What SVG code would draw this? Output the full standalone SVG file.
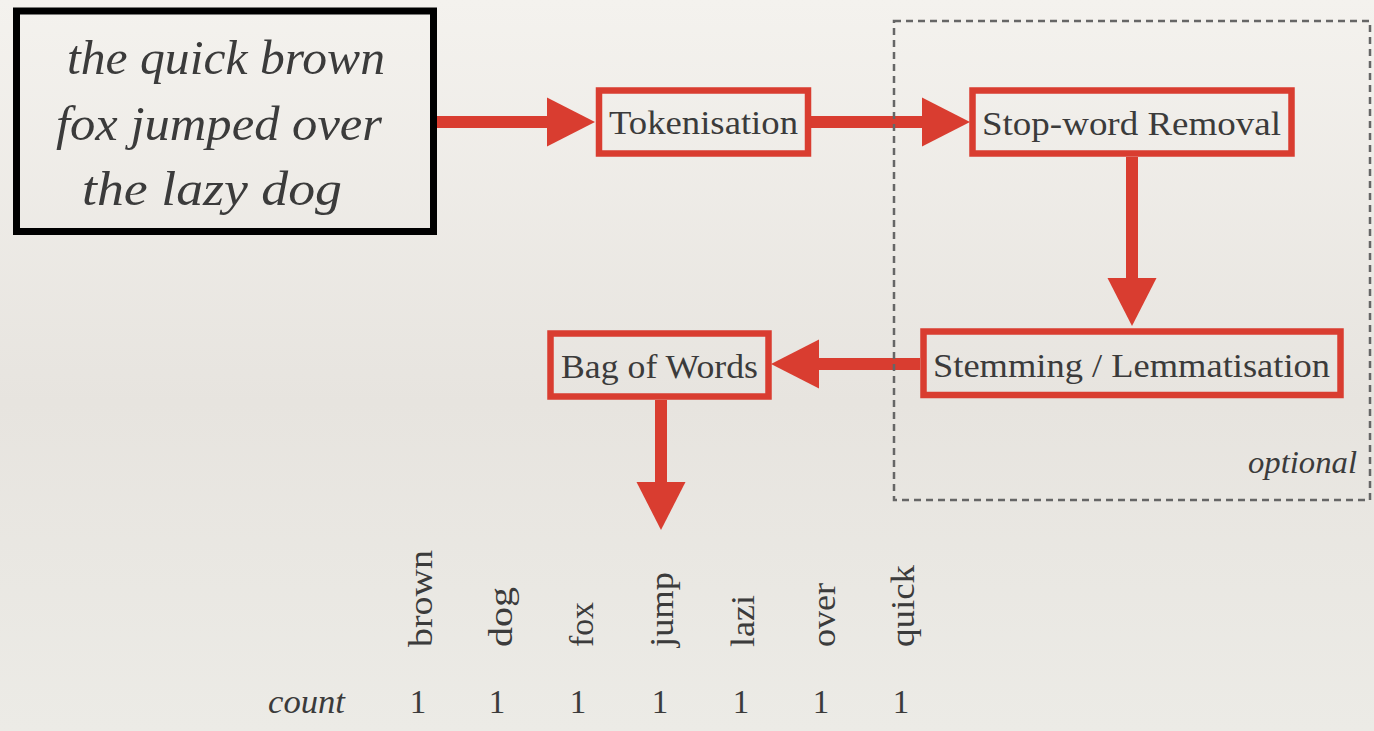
<svg xmlns="http://www.w3.org/2000/svg" width="1374" height="731" viewBox="0 0 1374 731">
<defs>
  <linearGradient id="bg" x1="0" y1="0" x2="0" y2="1">
    <stop offset="0" stop-color="#f4f2ee"/>
    <stop offset="0.55" stop-color="#e7e4df"/>
    <stop offset="1" stop-color="#ecebe6"/>
  </linearGradient>
  <marker id="head" markerUnits="userSpaceOnUse" markerWidth="50" markerHeight="50" refX="0" refY="24.5" orient="auto" overflow="visible">
    <path d="M0,0 L48,24.5 L0,49 Z" fill="#d93d30"/>
  </marker>
  <style>
    .box { fill: none; stroke: #d93d30; stroke-width: 6.5; }
    .lbl { font-family: "Liberation Serif", "DejaVu Serif", serif; font-size: 34px; fill: #3b3b3b; }
    .it { font-family: "Liberation Serif", "DejaVu Serif", serif; font-style: italic; fill: #3b3b3b; }
    .conn { stroke: #d93d30; stroke-width: 12; fill: none; marker-end: url(#head); }
    .word { font-family: "Liberation Serif", "DejaVu Serif", serif; font-size: 34px; fill: #3b3b3b; }
    .num { font-family: "Liberation Serif", "DejaVu Serif", serif; font-size: 33px; fill: #3b3b3b; text-anchor: middle; }
  </style>
</defs>
<rect x="0" y="0" width="1374" height="731" fill="url(#bg)"/>

<g id="connectors">
  <line class="conn" x1="437" y1="122" x2="547" y2="122"/>
  <line class="conn" x1="811" y1="122" x2="922" y2="122"/>
  <line class="conn" x1="1132" y1="157" x2="1132" y2="278"/>
  <line class="conn" x1="920" y1="364" x2="819" y2="364"/>
  <line class="conn" x1="661" y1="400" x2="661" y2="482"/>
</g>

<g id="input">
  <rect x="16.5" y="11" width="417" height="220.5" fill="none" stroke="#000" stroke-width="7"/>
  <text class="it" font-size="49" x="226" y="74" text-anchor="middle" textLength="318" lengthAdjust="spacingAndGlyphs">the quick brown</text>
  <text class="it" font-size="49" x="219" y="140" text-anchor="middle" textLength="326" lengthAdjust="spacingAndGlyphs">fox jumped over</text>
  <text class="it" font-size="49" x="212" y="205" text-anchor="middle" textLength="260" lengthAdjust="spacingAndGlyphs">the lazy dog</text>
</g>

<g id="tokenisation">
  <rect class="box" x="599" y="90.5" width="209" height="63"/>
  <text class="lbl" x="609" y="134" textLength="189" lengthAdjust="spacingAndGlyphs">Tokenisation</text>
</g>

<g id="stopword">
  <rect class="box" x="972.5" y="90.5" width="319" height="63"/>
  <text class="lbl" x="982" y="135" textLength="299" lengthAdjust="spacingAndGlyphs">Stop-word Removal</text>
</g>

<g id="stemming">
  <rect class="box" x="923.5" y="331.5" width="417" height="63.5"/>
  <text class="lbl" x="933" y="377" textLength="397" lengthAdjust="spacingAndGlyphs">Stemming / Lemmatisation</text>
</g>

<g id="bagofwords">
  <rect class="box" x="550.5" y="333.5" width="218" height="63"/>
  <text class="lbl" x="561" y="378" textLength="197" lengthAdjust="spacingAndGlyphs">Bag of Words</text>
</g>

<g id="optional">
  <rect x="894" y="21" width="476" height="479" fill="none" stroke="#666" stroke-width="2.5" stroke-dasharray="7 5"/>
  <text class="it" font-size="32" x="1357" y="473" text-anchor="end" textLength="109" lengthAdjust="spacingAndGlyphs">optional</text>
</g>

<g id="table">
  <text class="word" transform="translate(432,647) rotate(-90)" textLength="97" lengthAdjust="spacingAndGlyphs">brown</text>
  <text class="word" transform="translate(512,647) rotate(-90)" textLength="60" lengthAdjust="spacingAndGlyphs">dog</text>
  <text class="word" transform="translate(593,647) rotate(-90)" textLength="45" lengthAdjust="spacingAndGlyphs">fox</text>
  <text class="word" transform="translate(673,647) rotate(-90)" textLength="75" lengthAdjust="spacingAndGlyphs">jump</text>
  <text class="word" transform="translate(754,647) rotate(-90)" textLength="52" lengthAdjust="spacingAndGlyphs">lazi</text>
  <text class="word" transform="translate(835,647) rotate(-90)" textLength="64" lengthAdjust="spacingAndGlyphs">over</text>
  <text class="word" transform="translate(914,647) rotate(-90)" textLength="82" lengthAdjust="spacingAndGlyphs">quick</text>
  <text class="it" font-size="34" x="268" y="713" textLength="77" lengthAdjust="spacingAndGlyphs">count</text>
  <text class="num" x="418" y="713">1</text>
  <text class="num" x="497" y="713">1</text>
  <text class="num" x="578" y="713">1</text>
  <text class="num" x="660" y="713">1</text>
  <text class="num" x="741" y="713">1</text>
  <text class="num" x="821" y="713">1</text>
  <text class="num" x="901" y="713">1</text>
</g>
</svg>
